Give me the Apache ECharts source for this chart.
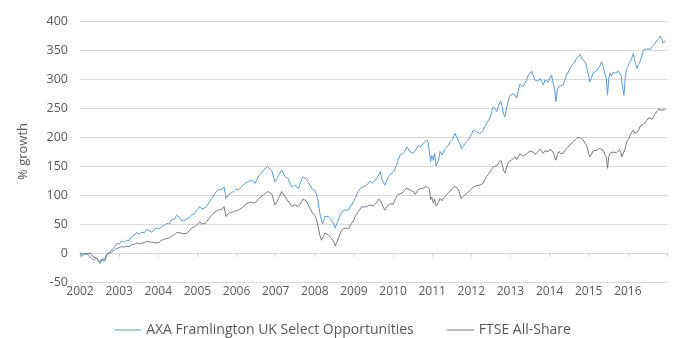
<!DOCTYPE html>
<html>
<head>
<meta charset="utf-8">
<script src="https://cdn.jsdelivr.net/npm/echarts@6/dist/echarts.min.js"></script>
<style>
  html, body { margin: 0; padding: 0; background: #ffffff; }
  #chart { width: 685px; height: 338px; }
</style>
</head>
<body>
<div id="chart"></div>
<script>
// Sample dates as decimal years
const dates = [
  2002.00, 2002.04, 2002.08, 2002.13, 2002.20, 2002.26, 2002.34, 2002.43, 2002.47, 2002.51, 2002.56, 2002.60, 2002.64, 2002.68, 2002.75, 2002.81, 2002.88, 2002.94,
  2003.00, 2003.06, 2003.13, 2003.19, 2003.25, 2003.32, 2003.38, 2003.45, 2003.52, 2003.58, 2003.64, 2003.70, 2003.77, 2003.83, 2003.90, 2003.96,
  2004.03, 2004.09, 2004.16, 2004.22, 2004.28, 2004.34, 2004.41, 2004.47, 2004.52, 2004.56, 2004.60, 2004.64, 2004.69, 2004.73, 2004.79, 2004.85, 2004.92, 2004.98,
  2005.03, 2005.07, 2005.11, 2005.15, 2005.20, 2005.24, 2005.30, 2005.36, 2005.41, 2005.45, 2005.49, 2005.53, 2005.58, 2005.62, 2005.68, 2005.71, 2005.73, 2005.76, 2005.79, 2005.85, 2005.92, 2005.98,
  2006.05, 2006.11, 2006.17, 2006.24, 2006.30, 2006.36, 2006.39, 2006.44, 2006.47, 2006.52, 2006.56, 2006.62, 2006.69, 2006.74, 2006.79, 2006.84, 2006.90, 2006.94, 2006.98,
  2007.03, 2007.07, 2007.11, 2007.15, 2007.20, 2007.24, 2007.28, 2007.32, 2007.37, 2007.41, 2007.45, 2007.49, 2007.54, 2007.58, 2007.62, 2007.66, 2007.70, 2007.73, 2007.78, 2007.83, 2007.88, 2007.92, 2007.96,
  2008.00, 2008.05, 2008.09, 2008.13, 2008.17, 2008.20, 2008.22, 2008.26, 2008.30, 2008.35, 2008.39, 2008.43, 2008.48, 2008.52, 2008.56, 2008.60, 2008.64, 2008.69, 2008.73, 2008.77, 2008.81, 2008.86, 2008.90, 2008.94,
  2009.00, 2009.03, 2009.07, 2009.11, 2009.16, 2009.20, 2009.26, 2009.33, 2009.37, 2009.41, 2009.46, 2009.50, 2009.55, 2009.60, 2009.64, 2009.67, 2009.71, 2009.75, 2009.79, 2009.84, 2009.88, 2009.94,
  2010.00, 2010.04, 2010.09, 2010.13, 2010.17, 2010.22, 2010.26, 2010.30, 2010.35, 2010.40, 2010.44, 2010.48, 2010.52, 2010.56, 2010.61, 2010.65, 2010.70, 2010.77, 2010.82, 2010.86, 2010.90, 2010.93, 2010.96, 2010.99,
  2011.03, 2011.06, 2011.10, 2011.13, 2011.17, 2011.20, 2011.25, 2011.29, 2011.33, 2011.38, 2011.42, 2011.46, 2011.52, 2011.58, 2011.63, 2011.67, 2011.72, 2011.75, 2011.80, 2011.84, 2011.90, 2011.97,
  2012.01, 2012.05, 2012.09, 2012.13, 2012.18, 2012.22, 2012.26, 2012.30, 2012.35, 2012.39, 2012.44, 2012.48, 2012.52, 2012.56, 2012.61, 2012.65, 2012.70, 2012.75, 2012.79, 2012.82, 2012.86, 2012.90, 2012.95, 2012.99,
  2013.04, 2013.08, 2013.12, 2013.16, 2013.20, 2013.24, 2013.29, 2013.33, 2013.37, 2013.41, 2013.46, 2013.50, 2013.54, 2013.58, 2013.63, 2013.67, 2013.71, 2013.76, 2013.80, 2013.84, 2013.88, 2013.93, 2013.97,
  2014.01, 2014.05, 2014.09, 2014.13, 2014.16, 2014.20, 2014.24, 2014.29, 2014.35, 2014.39, 2014.43, 2014.48, 2014.52, 2014.56, 2014.60, 2014.65, 2014.69, 2014.73, 2014.78, 2014.80, 2014.84, 2014.88, 2014.92, 2014.95,
  2015.00, 2015.03, 2015.07, 2015.11, 2015.16, 2015.20, 2015.24, 2015.28, 2015.33, 2015.37, 2015.41, 2015.45, 2015.48, 2015.51, 2015.54, 2015.58, 2015.62, 2015.66, 2015.71, 2015.75, 2015.79, 2015.83, 2015.85, 2015.88, 2015.90, 2015.93, 2015.97,
  2016.02, 2016.06, 2016.10, 2016.14, 2016.18, 2016.23, 2016.27, 2016.31, 2016.36, 2016.40, 2016.45, 2016.49, 2016.53, 2016.58, 2016.62, 2016.66, 2016.70, 2016.74, 2016.79, 2016.83, 2016.87, 2016.90, 2016.94, 2016.97
];

// AXA Framlington UK Select Opportunities, cumulative % growth
const axaValues = [
  0, -6, -2, -4, -2, -7, -12, -9, -14, -18, -12, -9, -14, -3, 2, 5, 10, 17,
  15, 20, 19, 22, 21, 28, 31, 35, 33, 36, 35, 40, 38, 36, 41, 43,
  42, 45, 48, 51, 50, 57, 58, 65, 62, 60, 56, 53, 57, 56, 61, 65, 68, 74,
  77, 80, 76, 74, 78, 80, 87, 94, 98, 103, 106, 109, 108, 110, 114, 104, 94, 97, 100, 103, 106, 110,
  109, 113, 117, 121, 123, 125, 128, 124, 120, 126, 132, 136, 143, 146, 149, 147, 142, 140, 123,
  128, 134, 138, 143, 137, 132, 129, 128, 120, 114, 111, 117, 115, 111, 118, 126, 131, 134, 128, 122, 117, 111, 110,
  108, 100, 86, 68, 57, 50, 48, 63, 60, 63, 60, 57, 52, 43, 50, 57, 64, 71, 70, 74, 72, 74, 79, 83,
  90, 94, 100, 106, 111, 114, 115, 117, 120, 124, 120, 121, 126, 131, 135, 140, 128, 122, 117, 125, 132, 136,
  139, 143, 152, 160, 168, 166, 172, 176, 183, 178, 174, 176, 172, 169, 181, 186, 182, 189, 191, 195, 190, 188, 158, 168,
  160, 172, 150, 147, 162, 175, 169, 172, 180, 178, 186, 192, 196, 206, 200, 198, 186, 180, 185, 189, 193, 201,
  205, 212, 215, 209, 210, 206, 203, 211, 219, 224, 229, 233, 244, 252, 248, 244, 255, 262, 252, 240, 235, 250, 264, 272,
  270, 275, 278, 267, 280, 291, 293, 287, 293, 298, 307, 310, 313, 306, 298, 300, 296, 301, 295, 290, 298, 301, 295,
  302, 307, 293, 282, 261, 282, 287, 284, 290, 298, 307, 312, 318, 322, 326, 330, 335, 338, 342, 344, 334, 331, 328, 327,
  305, 295, 302, 310, 308, 314, 316, 322, 330, 322, 310, 300, 272, 300, 310, 305, 311, 313, 310, 314, 316, 305, 293, 280, 272, 300, 318,
  325, 330, 336, 344, 330, 318, 325, 330, 340, 350, 348, 352, 353, 351, 356, 355, 362, 366, 370, 374, 367, 362, 359, 366
];

// FTSE All-Share, cumulative % growth
const ftseValues = [
  0, 2, -2, 1, -1, 0, -7, -9, -12, -15, -10, -9, -11, -3, 0, 2, 5, 8,
  9, 11, 10, 12, 11, 14, 15, 17, 16, 17, 18, 20, 19, 19, 18, 17,
  19, 22, 24, 25, 26, 29, 31, 35, 36, 35, 34, 33, 34, 34, 38, 43, 45, 48,
  51, 54, 50, 48, 51, 54, 60, 65, 68, 71, 72, 74, 73, 75, 80, 70, 63, 66, 68, 70, 71, 73,
  74, 77, 80, 84, 86, 88, 89, 86, 83, 89, 94, 97, 100, 103, 106, 104, 102, 100, 83,
  88, 94, 100, 106, 101, 97, 93, 91, 85, 80, 77, 83, 82, 80, 84, 88, 93, 96, 90, 83, 77, 71, 69,
  65, 57, 43, 31, 22, 20, 19, 34, 32, 31, 28, 25, 20, 12, 18, 25, 32, 40, 42, 43, 41, 42, 47, 51,
  57, 63, 67, 71, 76, 80, 79, 80, 81, 83, 80, 81, 85, 89, 93, 96, 86, 79, 74, 79, 83, 85,
  84, 90, 97, 101, 104, 103, 106, 108, 112, 110, 108, 109, 106, 101, 106, 110, 108, 112, 113, 115, 112, 110, 92, 96,
  86, 93, 81, 82, 88, 94, 90, 92, 98, 100, 104, 108, 111, 115, 112, 110, 98, 94, 98, 101, 104, 108,
  111, 114, 117, 116, 117, 117, 115, 120, 127, 132, 136, 139, 144, 149, 152, 150, 156, 160, 152, 143, 138, 148, 157, 160,
  161, 163, 166, 161, 166, 171, 170, 167, 170, 171, 174, 176, 177, 174, 170, 172, 175, 179, 176, 172, 176, 178, 175,
  179, 181, 174, 166, 160, 170, 175, 171, 172, 175, 180, 183, 186, 189, 192, 195, 198, 200, 199, 201, 196, 194, 188, 184,
  172, 166, 170, 176, 174, 177, 178, 180, 183, 177, 170, 165, 146, 165, 172, 169, 174, 176, 173, 176, 178, 172, 166, 163, 166, 180, 192,
  197, 203, 208, 212, 206, 204, 211, 218, 219, 222, 226, 229, 233, 235, 231, 234, 240, 244, 248, 251, 246, 244, 248, 246
];

const seriesNames = ['AXA Framlington UK Select Opportunities', 'FTSE All-Share'];
const seriesColors = ['#5b9bd5', '#7b7b7b'];
const yTicks = { min: -50, max: 400, step: 50 };
const xYears = { first: 2002, last: 2017 };

const toPairs = (vals) => dates.map((d, i) => [d, vals[i]]);

const textColor = '#595959';
const gridColor = '#d9d9d9';
const font = 'Open Sans';

const chart = echarts.init(document.getElementById('chart'), null, { renderer: 'canvas' });
chart.setOption({
  animation: false,
  backgroundColor: '#ffffff',
  textStyle: { fontFamily: font },
  grid: { left: 80, right: 18, top: 21, bottom: 56, outerBoundsMode: 'none', containLabel: false },
  legend: {
    top: 318,
    left: 'center',
    icon: 'rect',
    itemWidth: 27,
    itemHeight: 1,
    itemGap: 33,
    textStyle: { fontFamily: font, fontSize: 14, color: textColor },
    data: seriesNames
  },
  xAxis: {
    type: 'value',
    min: xYears.first,
    max: xYears.last,
    interval: 1,
    axisLine: { show: true, onZero: true, lineStyle: { color: gridColor, width: 1 } },
    axisTick: { show: true, inside: false, length: 4, lineStyle: { color: gridColor } },
    axisLabel: {
      color: textColor,
      fontFamily: font,
      fontSize: 12,
      margin: 4,
      hideOverlap: false,
      formatter: (v) => (v === xYears.last ? '' : String(v))
    },
    splitLine: { show: false }
  },
  yAxis: {
    type: 'value',
    min: yTicks.min,
    max: yTicks.max,
    interval: yTicks.step,
    name: '% growth',
    nameLocation: 'middle',
    nameGap: 50,
    nameTextStyle: { color: textColor, fontFamily: font, fontSize: 13 },
    axisLine: { show: false },
    axisTick: { show: false },
    axisLabel: { color: textColor, fontFamily: font, fontSize: 12.5, margin: 12 },
    splitLine: { lineStyle: { color: gridColor, width: 1 } }
  },
  series: [
    {
      name: seriesNames[0],
      type: 'line',
      data: toPairs(axaValues),
      symbol: 'none',
      lineStyle: { color: seriesColors[0], width: 1 },
      itemStyle: { color: seriesColors[0] }
    },
    {
      name: seriesNames[1],
      type: 'line',
      data: toPairs(ftseValues),
      symbol: 'none',
      lineStyle: { color: seriesColors[1], width: 1 },
      itemStyle: { color: seriesColors[1] }
    }
  ]
});
</script>
</body>
</html>
